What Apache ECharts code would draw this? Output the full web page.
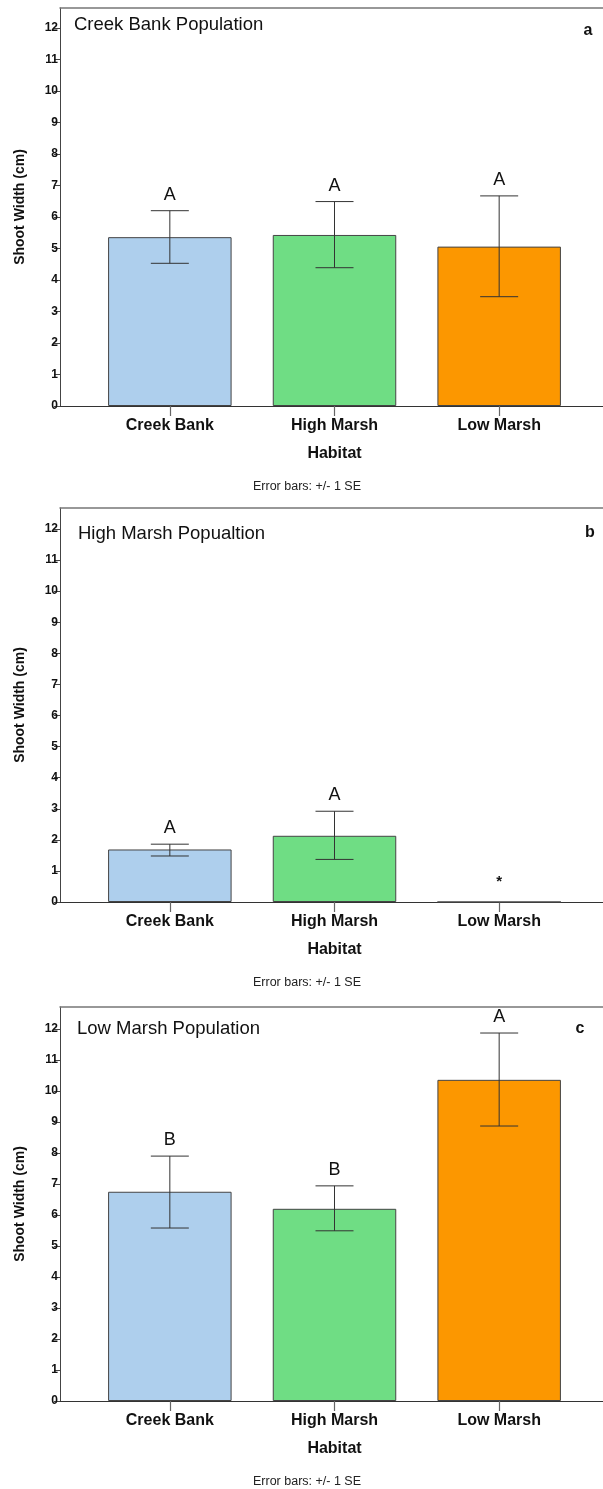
<!DOCTYPE html>
<html>
<head>
<meta charset="utf-8">
<script src="https://cdn.jsdelivr.net/npm/echarts@6/dist/echarts.min.js"></script>
<style>
html,body{margin:0;padding:0;background:#fff;}
#c{width:603px;height:1489px;}
</style>
</head>
<body>
<div id="c"></div>
<script>
// ---- data ----
const categories = ['Creek Bank', 'High Marsh', 'Low Marsh'];
const yTicks = [0, 12];
const panelTitles = ['Creek Bank Population', 'High Marsh Popualtion', 'Low Marsh Population'];
const panelTags = ['a', 'b', 'c'];
const footnote = 'Error bars: +/- 1 SE';

const creekMean = [5.36, 5.43, 5.06];
const creekLo   = [4.53, 4.39, 3.47];
const creekHi   = [6.20, 6.49, 6.67];
const creekLetters = ['A', 'A', 'A'];

const highMean = [1.69, 2.13, 0];
const highLo   = [1.48, 1.37, null];
const highHi   = [1.86, 2.92, null];
const highLetters = ['A', 'A', '*'];

const lowMean = [6.75, 6.20, 10.36];
const lowLo   = [5.58, 5.49, 8.87];
const lowHi   = [7.90, 6.94, 11.87];
const lowLetters = ['B', 'B', 'A'];

const barColors = ['#aecfed', '#6fdd84', '#fc9700'];

// ---- layout ----
const FONT = '"Liberation Sans", Arial, sans-serif';
const panels = [
  {mean: creekMean, lo: creekLo, hi: creekHi, letters: creekLetters, frameTop: 8,    top12: 28,   axisY: 406,  titleX: 74, titleY: 26,   tagX: 588, tagY: 31},
  {mean: highMean,  lo: highLo,  hi: highHi,  letters: highLetters,  frameTop: 508,  top12: 529,  axisY: 902,  titleX: 78, titleY: 535,  tagX: 590, tagY: 533},
  {mean: lowMean,   lo: lowLo,   hi: lowHi,   letters: lowLetters,   frameTop: 1007, top12: 1029, axisY: 1401, titleX: 77, titleY: 1030, tagX: 580, tagY: 1029}
];

const FRAME_LEFT = 60;
const DATA_LEFT = 87.5;
const DATA_WIDTH = 494;

const grid = [], xAxis = [], yAxis = [], series = [], graphic = [];

panels.forEach((p, k) => {
  const gF = 2 * k, gD = 2 * k + 1;
  // frame grid (axis lines only)
  grid.push({left: FRAME_LEFT, top: p.frameTop, right: 0, height: p.axisY - p.frameTop});
  // data grid
  grid.push({left: DATA_LEFT, top: p.top12, width: DATA_WIDTH, height: p.axisY - p.top12});

  xAxis.push({gridIndex: gF, type: 'value', min: 0, max: 1, position: 'bottom',
    axisLine: {show: true, lineStyle: {color: '#333', width: 1}},
    axisTick: {show: false}, axisLabel: {show: false}, splitLine: {show: false}});
  xAxis.push({gridIndex: gF, type: 'value', min: 0, max: 1, position: 'top',
    axisLine: {show: true, lineStyle: {color: '#777', width: 1.5}},
    axisTick: {show: false}, axisLabel: {show: false}, splitLine: {show: false}});
  xAxis.push({gridIndex: gD, type: 'category', data: categories, boundaryGap: true,
    axisLine: {show: true, lineStyle: {color: '#333', width: 1}},
    axisTick: {show: true, alignWithLabel: true, length: 10, lineStyle: {color: '#666', width: 1.2}},
    axisLabel: {margin: 12, fontFamily: FONT, fontSize: 16, fontWeight: 'bold', color: '#111'},
    name: 'Habitat', nameLocation: 'middle', nameGap: 40,
    nameTextStyle: {fontFamily: FONT, fontSize: 16, fontWeight: 'bold', color: '#111'}});

  yAxis.push({gridIndex: gF, type: 'value', min: 0, max: 1,
    axisLine: {show: true, lineStyle: {color: '#444', width: 1}},
    axisTick: {show: false}, axisLabel: {show: false}, splitLine: {show: false},
    name: 'Shoot Width (cm)', nameLocation: 'middle', nameGap: 33, nameRotate: 90,
    nameTextStyle: {fontFamily: FONT, fontSize: 14, fontWeight: 'bold', color: '#111'}});
  yAxis.push({gridIndex: gD, type: 'value', min: yTicks[0], max: yTicks[1], interval: 1, offset: DATA_LEFT - FRAME_LEFT,
    axisLine: {show: true, lineStyle: {color: '#444', width: 1}},
    axisTick: {show: true, length: 6, lineStyle: {color: '#444'}},
    axisLabel: {margin: 2, fontFamily: FONT, fontSize: 12, fontWeight: 'bold', color: '#111'},
    splitLine: {show: false}});

  const xi = 3 * k + 2;
  series.push({
    type: 'bar', xAxisIndex: xi, yAxisIndex: gD, barWidth: '75%', z: 2,
    data: p.mean.map((v, i) => ({value: v, itemStyle: {color: barColors[i]}})),
    itemStyle: {borderColor: '#444', borderWidth: 1},
    emphasis: {disabled: true}, animation: false
  });

  series.push({
    type: 'custom', xAxisIndex: xi, yAxisIndex: gD, animation: false, silent: true, z: 5,
    data: p.mean.map((v, i) => [i, v]),
    renderItem: function (params, api) {
      const i = params.dataIndex;
      const children = [];
      const lo = p.lo[i], hi = p.hi[i];
      const half = 19;
      let topPx;
      if (lo != null && hi != null) {
        const a = api.coord([i, lo]);
        const b = api.coord([i, hi]);
        const st = {stroke: '#333', lineWidth: 1};
        children.push({type: 'line', shape: {x1: a[0], y1: a[1], x2: b[0], y2: b[1]}, style: st});
        children.push({type: 'line', shape: {x1: a[0] - half, y1: a[1], x2: a[0] + half, y2: a[1]}, style: st});
        children.push({type: 'line', shape: {x1: b[0] - half, y1: b[1], x2: b[0] + half, y2: b[1]}, style: st});
        topPx = b;
      } else {
        topPx = api.coord([i, p.mean[i]]);
      }
      const isStar = p.letters[i] === '*';
      children.push({type: 'text', style: {
        text: p.letters[i], x: topPx[0], y: topPx[1] - (isStar ? 20 : 16),
        align: 'center', verticalAlign: 'middle',
        fontFamily: FONT, fontSize: isStar ? 15 : 18, fontWeight: isStar ? 'bold' : 'normal', fill: '#111'}});
      return {type: 'group', children: children};
    }
  });

  graphic.push({type: 'text', left: p.titleX, top: p.titleY - 11,
    style: {text: panelTitles[k], fontFamily: FONT, fontSize: 18.5, fill: '#111'}});
  graphic.push({type: 'text', x: p.tagX, y: p.tagY,
    style: {text: panelTags[k], align: 'center', verticalAlign: 'middle', fontFamily: FONT, fontSize: 16, fontWeight: 'bold', fill: '#111'}});
  graphic.push({type: 'text', x: 307, y: p.axisY + 81,
    style: {text: footnote, align: 'center', verticalAlign: 'middle', fontFamily: FONT, fontSize: 12.5, fill: '#222'}});
});

const chart = echarts.init(document.getElementById('c'), null, {renderer: 'canvas'});
chart.setOption({
  animation: false,
  backgroundColor: '#fff',
  grid, xAxis, yAxis, series, graphic
});
</script>
</body>
</html>
